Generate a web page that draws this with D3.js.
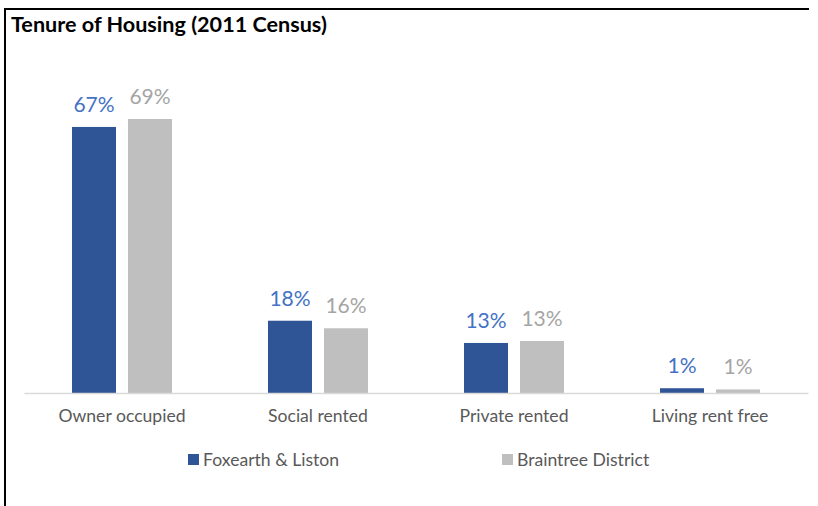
<!DOCTYPE html>
<html><head><meta charset="utf-8">
<script src="https://cdn.jsdelivr.net/npm/d3@7"></script>
<style>body{margin:0;background:#fff;} svg{display:block;}</style>
</head><body>
<script>
const categories = ["Owner occupied", "Social rented", "Private rented", "Living rent free"];
const seriesNames = ["Foxearth & Liston", "Braintree District"];
const foxearth = [67.0, 18.2, 12.6, 1.2];
const braintree = [69.0, 16.3, 13.1, 0.9];
const title = "Tenure of Housing (2011 Census)";

const W = 818, H = 506;
const svg = d3.select("body").append("svg").attr("width", W).attr("height", H);
const font = "Lato, 'Noto Sans', sans-serif";

// frame lines
svg.append("line").attr("x1",4).attr("x2",809).attr("y1",9).attr("y2",9).attr("stroke","#000").attr("stroke-width",2);
svg.append("line").attr("x1",5).attr("x2",5).attr("y1",8).attr("y2",H).attr("stroke","#000").attr("stroke-width",2);

svg.append("text").attr("x",11).attr("y",32).attr("font-family",font).attr("font-weight","bold")
  .attr("font-size",21.6).attr("fill","#000").text(title);

const baseY = 393;
const x0 = d3.scaleBand().domain(categories).range([24, 808]).paddingInner(0).paddingOuter(0);
const x1 = d3.scaleBand().domain(seriesNames).range([48, 148]).paddingInner(12/56).paddingOuter(0);
const y = d3.scaleLinear().domain([0, 69]).range([baseY, 119]);

const colors = ["#2F5597", "#BFBFBF"];
const labelColors = ["#4472C4", "#A5A5A5"];
const data = [foxearth, braintree];

const g = svg.append("g");
categories.forEach((c, i) => {
  seriesNames.forEach((s, j) => {
    const v = data[j][i];
    const bx = x0(c) + x1(s);
    g.append("rect").attr("x", bx).attr("y", y(v)).attr("width", x1.bandwidth())
      .attr("height", baseY - y(v)).attr("fill", colors[j]);
    g.append("text").attr("x", bx + x1.bandwidth()/2).attr("y", y(v) - 15)
      .attr("text-anchor","middle").attr("font-family",font).attr("font-size",21)
      .attr("fill", labelColors[j]).text(Math.round(v) + "%");
  });
});

// axis
const axis = svg.append("g").attr("transform", `translate(0,${baseY})`)
  .call(d3.axisBottom(x0).tickSize(0).tickPadding(17));
axis.select(".domain").attr("stroke","#D9D9D9").attr("stroke-width",1.5);
axis.selectAll("text").attr("font-family",font).attr("font-size",17.6).attr("fill","#595959");

// legend
const legX = [188, 502];
seriesNames.forEach((s, j) => {
  svg.append("rect").attr("x", legX[j]).attr("y", 454).attr("width", 11).attr("height", 11).attr("fill", colors[j]);
  svg.append("text").attr("x", legX[j] + 15).attr("y", 466).attr("font-family",font).attr("font-size",17.6)
    .attr("fill","#595959").text(s);
});
</script>
</body></html>
